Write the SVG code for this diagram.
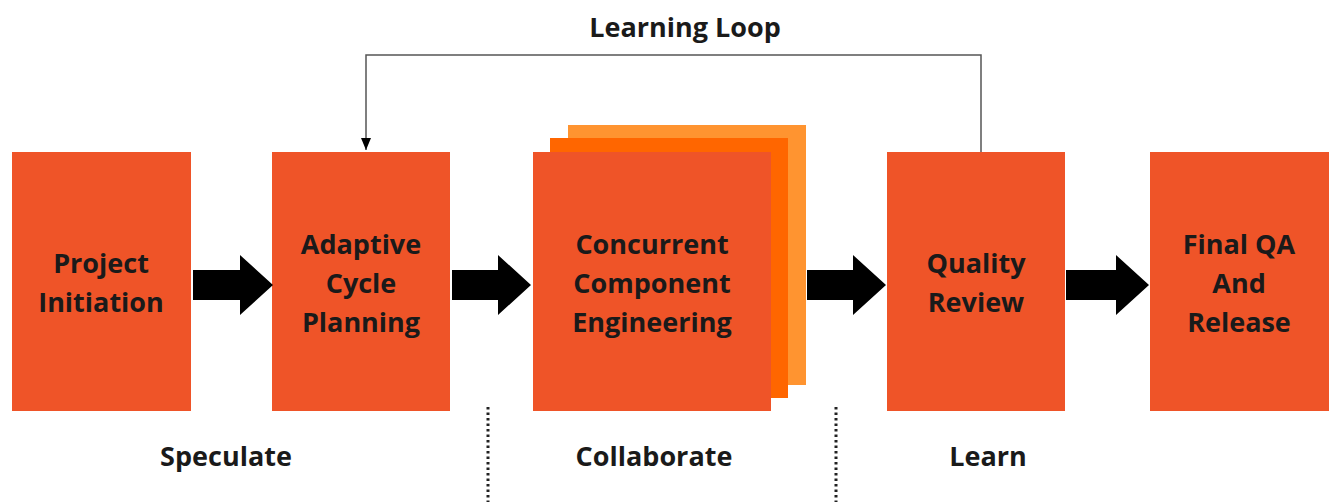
<svg xmlns="http://www.w3.org/2000/svg" width="1331" height="502" viewBox="0 0 1331 502">
<style>
.box{fill:#EF5428}
.t{font-family:"Open Sans","Liberation Sans",sans-serif;font-weight:bold;font-size:27px;fill:#1a1a1a;text-anchor:middle}
.blk{fill:#000}
.dot{stroke:#222;stroke-width:3;stroke-dasharray:2.5 3;fill:none}
</style>
<defs>
<marker id="ah" markerWidth="12" markerHeight="10" refX="12" refY="5" orient="auto" markerUnits="userSpaceOnUse" viewBox="0 0 12 10">
<path d="M0,0 L12,5 L0,10 Z" fill="#000"/>
</marker>
</defs>
<rect width="1331" height="502" fill="#fff"/>
<text class="t" x="685" y="37">Learning Loop</text>
<g id="n1"><rect class="box" x="12" y="152" width="179" height="259"/>
<text class="t" x="101" y="273">Project</text><text class="t" x="101" y="312">Initiation</text></g>
<g id="n2"><rect class="box" x="272" y="152" width="178" height="259"/>
<text class="t" x="361" y="254">Adaptive</text><text class="t" x="361" y="293">Cycle</text><text class="t" x="361" y="332">Planning</text></g>
<g id="n3">
<rect x="568" y="125" width="238" height="260" fill="#FF9430"/>
<rect x="550" y="138" width="238" height="260" fill="#FF6600"/>
<rect class="box" x="533" y="152" width="238" height="259"/>
<text class="t" x="652" y="254">Concurrent</text><text class="t" x="652" y="293">Component</text><text class="t" x="652" y="332">Engineering</text></g>
<g id="n4"><rect class="box" x="887" y="152" width="178" height="259"/>
<text class="t" x="976" y="273">Quality</text><text class="t" x="976" y="312">Review</text></g>
<g id="n5"><rect class="box" x="1150" y="152" width="179" height="259"/>
<text class="t" x="1239" y="254">Final QA</text><text class="t" x="1239" y="293">And</text><text class="t" x="1239" y="332">Release</text></g>
<g id="connectors">
<path d="M981,152 V55 H366 V150" fill="none" stroke="#555" stroke-width="1.5" marker-end="url(#ah)"/>
<path class="blk" d="M193,270 H240 V255 L273,285 L240,315 V300 H193 Z"/>
<path class="blk" d="M452,270 H498 V255 L531,285 L498,315 V300 H452 Z"/>
<path class="blk" d="M807,270 H853 V255 L886,285 L853,315 V300 H807 Z"/>
<path class="blk" d="M1066,270 H1116 V255 L1149,285 L1116,315 V300 H1066 Z"/>
</g>
<g id="phases">
<line class="dot" x1="488" y1="407" x2="488" y2="502"/>
<line class="dot" x1="836" y1="407" x2="836" y2="502"/>
<text class="t" x="226" y="466">Speculate</text>
<text class="t" x="654" y="466">Collaborate</text>
<text class="t" x="988" y="466">Learn</text>
</g>
</svg>
